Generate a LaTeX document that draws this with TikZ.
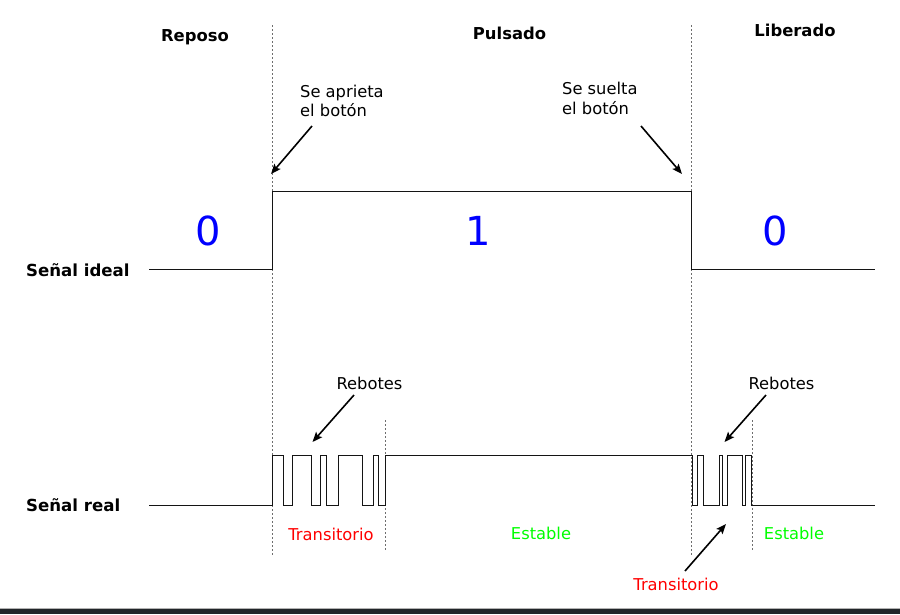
\documentclass[tikz,border=0pt]{standalone}
\usepackage{fontspec}
\setmainfont{DejaVu Sans}
\usetikzlibrary{arrows.meta}
\definecolor{sigcol}{RGB}{20,20,20}
\definecolor{dashcol}{RGB}{110,110,110}
\definecolor{barcol}{RGB}{33,37,41}
\definecolor{digblue}{RGB}{0,0,255}
\definecolor{txtred}{RGB}{255,0,0}
\definecolor{txtgreen}{RGB}{0,255,0}
\tikzset{
  title/.style={font=\fontsize{16.4}{19}\selectfont\bfseries, inner sep=0pt, anchor=base},
  rowlabel/.style={font=\fontsize{16.6}{19}\selectfont\bfseries, inner sep=0pt, anchor=base west},
  note/.style={font=\fontsize{16.3}{19.5}\selectfont, inner sep=0pt, align=left, anchor=base west},
  small/.style={font=\fontsize{16.3}{19}\selectfont, inner sep=0pt, anchor=base},
  digit/.style={font=\fontsize{40}{44}\selectfont, text=digblue, inner sep=0pt, anchor=base},
  signal/.style={draw=sigcol, line width=1.0pt, line join=miter},
  guide/.style={draw=dashcol, line width=0.8pt, dash pattern=on 2pt off 2pt},
  pointer/.style={draw=black, line width=1.6pt, -{Stealth[length=10pt,width=8pt,inset=2pt]}},
}
\begin{document}
\begin{tikzpicture}[x=1pt,y=-1pt]
\useasboundingbox (0,0) rectangle (900,614);
\fill[white] (0,0) rectangle (900,614);
% bottom bar
\fill[barcol] (0,609) rectangle (900,614);
\draw[color=gray!60, line width=0.6pt] (0,608.5) -- (900,608.5);

% guide lines
\draw[guide] (272,25) -- (272,556);
\draw[guide] (691.5,25) -- (691.5,556);
\draw[guide] (385.5,420) -- (385.5,550);
\draw[guide] (752,420) -- (752,550);

% titles
\node[title] (reposo) at (195,41.5) {Reposo};
\node[title] (pulsado) at (509.5,39) {Pulsado};
\node[title] (liberado) at (795,36) {Liberado};

% row labels
\node[rowlabel] (ideal) at (26,276.5) {Señal ideal};
\node[rowlabel] (real) at (26,511.5) {Señal real};

% ideal signal
\draw[signal] (149,269) -- (272,269) -- (272,191) -- (691.5,191) -- (691.5,269) -- (875,269);

% real signal
\draw[signal] (149,505.5) -- (272,505.5) -- (272,455)
  -- (283,455) -- (283,505.5) -- (292,505.5) -- (292,455)
  -- (311,455) -- (311,505.5) -- (320,505.5) -- (320,455)
  -- (326,455) -- (326,505.5) -- (338,505.5) -- (338,455)
  -- (362,455) -- (362,505.5) -- (373,505.5) -- (373,455)
  -- (378.5,455) -- (378.5,505.5) -- (385.5,505.5) -- (385.5,455)
  -- (692,455) -- (692,505.5) -- (697,505.5) -- (697,455)
  -- (703,455) -- (703,505.5) -- (719.5,505.5) -- (719.5,455)
  -- (722.5,455) -- (722.5,505.5) -- (727.5,505.5) -- (727.5,455)
  -- (742,455) -- (742,505.5) -- (745.5,505.5) -- (745.5,455)
  -- (751.5,455) -- (751.5,505.5) -- (875,505.5);

% digits
\node[digit] (d0a) at (208,245.5) {0};
\node[digit] (d1) at (478,245.5) {1};
\node[digit] (d0b) at (775.5,245.5) {0};

% notes (base anchor = last line)
\node[note] (press) at (300,116.5) {Se aprieta\\el botón};
\node[note] (release) at (562,114) {Se suelta\\el botón};
\coordinate (pressT) at (312,126);
\coordinate (pressH) at (271,174);
\coordinate (relT) at (641,126);
\coordinate (relH) at (682,174);
\draw[pointer] (pressT) -- (pressH);
\draw[pointer] (relT) -- (relH);

\node[small] (reb1) at (369.5,389) {Rebotes};
\node[small] (reb2) at (781.5,389) {Rebotes};
\coordinate (reb1T) at (354,395);
\coordinate (reb1H) at (312.5,442);
\coordinate (reb2T) at (766,395);
\coordinate (reb2H) at (724.5,442);
\draw[pointer] (reb1T) -- (reb1H);
\draw[pointer] (reb2T) -- (reb2H);

\node[small, text=txtred] (tr1) at (331,540.5) {Transitorio};
\node[small, text=txtgreen] (es1) at (541,539.5) {Estable};
\node[small, text=txtgreen] (es2) at (794,539) {Estable};
\node[small, text=txtred] (tr2) at (676,590) {Transitorio};
\coordinate (tr2T) at (685,571);
\coordinate (tr2H) at (726,524);
\draw[pointer] (tr2T) -- (tr2H);
\end{tikzpicture}
\end{document}
